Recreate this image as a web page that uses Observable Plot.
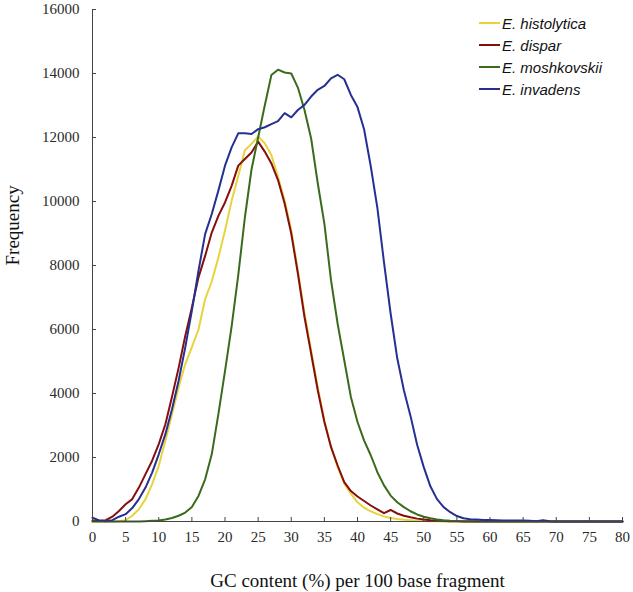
<!DOCTYPE html>
<html><head><meta charset="utf-8">
<script src="https://cdn.jsdelivr.net/npm/d3@7"></script>
<script src="https://cdn.jsdelivr.net/npm/@observablehq/plot@0.6"></script>
<style>
body{margin:0;background:#fff;}
#wrap{position:relative;width:633px;height:592px;}
#legend{position:absolute;left:479px;top:12px;font-family:"Liberation Sans",sans-serif;font-style:italic;font-size:15px;color:#111;}
.row{display:flex;align-items:center;height:22px;}
.sw{width:21px;height:2px;margin-right:2px;}
</style></head><body>
<div id="wrap"><div id="legend"></div></div>
<script>
const gc = [0,1,2,3,4,5,6,7,8,9,10,11,12,13,14,15,16,17,18,19,20,21,22,23,24,25,26,27,28,29,30,31,32,33,34,35,36,37,38,39,40,41,42,43,44,45,46,47,48,49,50,51,52,53,54,55,56,57,58,59,60,61,62,63,64,65,66,67,68,69,70,71,72,73,74,75,76,77,78,79,80];
const histolytica = [0,0,0,0,10,40,180,385,700,1170,1740,2520,3350,4190,4920,5450,6000,6950,7500,8250,9090,10020,10800,11600,11800,12030,11820,11450,10770,10040,9100,7850,6500,5350,4200,3160,2330,1700,1180,870,600,430,320,230,160,110,80,55,40,25,15,10,5,0,0,0,0,0,0,0,0,0,0,0,0,0,0,0,0,0,0,0,0,0,0,0,0,0,0,0,0];
const dispar = [30,20,40,150,330,540,700,1060,1480,1900,2420,3040,3900,4800,5800,6690,7630,8300,9030,9550,9970,10490,11120,11330,11530,11870,11560,11190,10670,9940,9000,7750,6390,5250,4100,3110,2330,1750,1230,950,780,640,500,380,260,360,250,180,130,90,60,40,25,15,10,5,0,0,0,0,0,0,0,0,0,0,0,0,0,0,0,0,0,0,0,0,0,0,0,0,0];
const moshkovskii = [0,0,0,0,0,0,0,0,10,20,30,60,110,180,280,450,800,1320,2100,3355,4700,6100,7700,9500,11000,12000,13000,13950,14120,14030,14000,13560,12860,11970,10570,9310,7540,6180,5040,3890,3110,2530,2070,1540,1130,810,600,450,320,220,150,100,60,40,25,15,10,5,0,0,0,0,0,0,0,0,0,0,0,0,0,0,0,0,0,0,0,0,0,0,0];
const invadens = [120,30,5,40,150,230,420,700,1060,1530,2100,2730,3510,4400,5440,6590,7840,8980,9610,10340,11120,11690,12130,12130,12110,12260,12320,12420,12510,12760,12630,12860,13020,13280,13490,13610,13850,13960,13820,13330,12950,12250,11100,9800,8100,6500,5100,4100,3300,2400,1700,1100,700,450,290,170,100,70,60,50,50,40,30,30,30,30,20,10,40,10,0,0,0,0,0,0,0,0,0,0,0];
const names = ["E. histolytica","E. dispar","E. moshkovskii","E. invadens"];
const colors = ["#e6d43c","#850f0f","#3a6b1c","#253092"];
const valuesList = [histolytica, dispar, moshkovskii, invadens];
const xTicks = [0,5,10,15,20,25,30,35,40,45,50,55,60,65,70,75,80];
const yTicks = [0,2000,4000,6000,8000,10000,12000,14000,16000];
const xTitle = "GC content (%) per 100 base fragment";
const yTitle = "Frequency";

const lines = valuesList.map((vals, k) => Plot.line(vals, {
  x: (d, i) => gc[i], y: d => d, stroke: colors[k], strokeWidth: 2, strokeLinejoin: "round"
}));

const plot = Plot.plot({
  width: 633, height: 592,
  marginLeft: 92, marginRight: 11, marginTop: 9, marginBottom: 71,
  style: {fontFamily: "'Liberation Serif', serif", fontSize: "15px", color: "#333", background: "#fff"},
  x: {domain: [0, 80]},
  y: {domain: [0, 16000]},
  marks: [
    ...lines,
    Plot.ruleX([0], {stroke: "#444", strokeWidth: 1}),
    Plot.ruleY([0], {stroke: "#444", strokeWidth: 1}),
    Plot.axisY({ticks: yTicks, tickSize: 4, dx: 4, fill: "none", stroke: "#444", label: null}),
    Plot.axisY({ticks: yTicks, tickSize: 0, tickPadding: 13, label: null, tickFormat: d => String(d), fontFamily: "'Liberation Serif', serif", fontSize: 15, fill: "#2a2a2a"}),
    Plot.axisX({ticks: xTicks, tickSize: 4, dy: -4, fill: "none", stroke: "#444", label: null}),
    Plot.axisX({ticks: xTicks, tickSize: 0, tickPadding: 10, label: null, tickFormat: d => String(d), fontFamily: "'Liberation Serif', serif", fontSize: 15, fill: "#2a2a2a"}),
    Plot.text([xTitle], {frameAnchor: "bottom", dy: 59, text: d => d, fontFamily: "'Liberation Serif', serif", fontSize: 19, fill: "#111", lineAnchor: "middle"}),
    Plot.text([yTitle], {frameAnchor: "left", dx: -80, rotate: -90, text: d => d, fontFamily: "'Liberation Serif', serif", fontSize: 19, fill: "#111", lineAnchor: "middle"})
  ]
});
const wrap = document.getElementById("wrap");
wrap.insertBefore(plot, wrap.firstChild);
const legend = document.getElementById("legend");
names.forEach((n, k) => {
  const row = document.createElement("div"); row.className = "row";
  const sw = document.createElement("span"); sw.className = "sw"; sw.style.background = colors[k];
  const t = document.createElement("span"); t.textContent = n;
  row.appendChild(sw); row.appendChild(t); legend.appendChild(row);
});
</script>
</body></html>
